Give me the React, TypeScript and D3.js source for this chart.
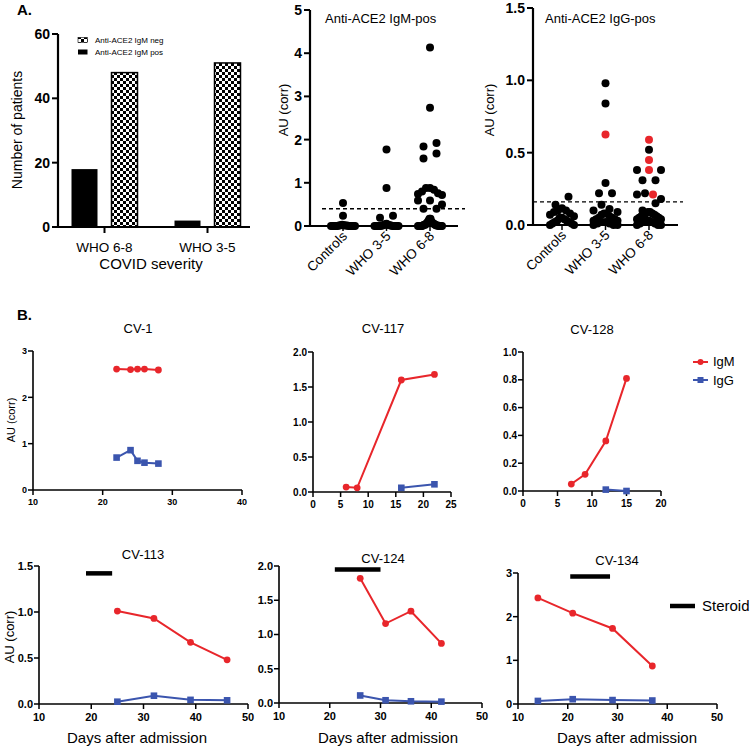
import React from "react";
import * as d3 from "d3";

const FONT = "'Liberation Sans', Arial, Helvetica, sans-serif";
const RED = "#e8262b";
const BLUE = "#3b55ae";

// ---------- Panel A: bar chart ----------
const barCategories = ["WHO 6-8", "WHO 3-5"];
const igmPosCounts = [18, 2];
const igmNegCounts = [48, 51];
const barTicks = [0, 20, 40, 60];

// ---------- Panel A: scatter plots ----------
const scatterCategories = ["Controls", "WHO 3-5", "WHO 6-8"];
const igmControls = [0.53, 0.24, 0.03, 0.02, 0.02, 0.01, 0.01, 0.0, 0.0, 0.0, 0.0, 0.0, 0.01, 0.0, 0.0, 0.0, 0.0, 0.0];
const igmWho35 = [1.77, 0.88, 0.19, 0.24, 0.05, 0.04, 0.03, 0.02, 0.02, 0.01, 0.01, 0.0, 0.0, 0.0, 0.0, 0.0, 0.0, 0.0, 0.0, 0.0, 0.0];
const igmWho68 = [4.13, 2.74, 1.92, 1.84, 1.68, 1.56, 0.88, 0.88, 0.84, 0.80, 0.76, 0.74, 0.72, 0.59, 0.59, 0.50, 0.40, 0.40,
  0.17, 0.17, 0.12, 0.10, 0.08, 0.07, 0.06, 0.05, 0.04, 0.03, 0.03, 0.02, 0.02, 0.01, 0.01, 0.0, 0.0, 0.0, 0.0, 0.0, 0.0, 0.0, 0.0, 0.0];
const igmTicks = [0, 1, 2, 3, 4, 5];
const igmCutoff = 0.4;

const iggControls = [0.195, 0.14, 0.115, 0.10, 0.10, 0.09, 0.08, 0.07, 0.06, 0.05, 0.05, 0.04, 0.03, 0.03, 0.02, 0.02, 0.01, 0.01, 0.0, 0.0];
const iggWho35 = [0.98, 0.84, 0.29, 0.22, 0.22, 0.14, 0.11, 0.10, 0.09, 0.08, 0.08, 0.07, 0.06, 0.05, 0.05, 0.04, 0.04, 0.03, 0.03, 0.02, 0.02, 0.01, 0.01, 0.0, 0.0, 0.0];
const iggWho35Red = [0.625];
const iggWho68 = [0.52, 0.38, 0.38, 0.31, 0.31, 0.22, 0.21, 0.18, 0.15, 0.10, 0.09, 0.09, 0.08, 0.08, 0.07, 0.07, 0.06, 0.06, 0.05, 0.05, 0.04, 0.04, 0.03, 0.03, 0.02, 0.02, 0.01, 0.01, 0.0, 0.0, 0.0];
const iggWho68Red = [0.59, 0.45, 0.38, 0.21];
const iggTicks = [0, 0.5, 1.0, 1.5];
const iggCutoff = 0.16;

// ---------- Panel B: kinetics ----------
const cv1IgMDays = [22, 24, 25, 26, 28];
const cv1IgM = [2.61, 2.6, 2.61, 2.61, 2.59];
const cv1IgGDays = [22, 24, 25, 26, 28];
const cv1IgG = [0.7, 0.86, 0.63, 0.59, 0.57];

const cv117IgMDays = [6, 8, 16, 22];
const cv117IgM = [0.07, 0.06, 1.6, 1.68];
const cv117IgGDays = [16, 22];
const cv117IgG = [0.06, 0.11];

const cv128IgMDays = [7, 9, 12, 15];
const cv128IgM = [0.05, 0.12, 0.36, 0.81];
const cv128IgGDays = [12, 15];
const cv128IgG = [0.01, 0.0];

const cv113Days = [25, 32, 39, 46];
const cv113IgM = [1.01, 0.93, 0.67, 0.48];
const cv113IgG = [0.025, 0.09, 0.045, 0.04];
const cv113Steroid = [19, 24, 1.42];

const cv124Days = [26, 31, 36, 42];
const cv124IgM = [1.82, 1.16, 1.34, 0.87];
const cv124IgG = [0.11, 0.04, 0.025, 0.02];
const cv124Steroid = [21, 30, 1.95];

const cv134Days = [14, 21, 29, 37];
const cv134IgM = [2.43, 2.08, 1.73, 0.87];
const cv134IgG = [0.07, 0.11, 0.09, 0.08];
const cv134Steroid = [20.5, 28.5, 2.92];

type Pt = { v: number; red: boolean };

function swarmOffsets(vals: Pt[], y: (v: number) => number, r: number, maxHalf: number, pairHalf: number) {
  const idx = vals.map((_, i) => i).sort((a, b) => vals[b].v - vals[a].v || (vals[b].red ? 1 : 0) - (vals[a].red ? 1 : 0));
  const out = new Array(vals.length).fill(0);
  let i = 0;
  while (i < idx.length) {
    const y0 = y(vals[idx[i]].v);
    let j = i;
    while (j < idx.length && Math.abs(y(vals[idx[j]].v) - y0) < 2 * r) j++;
    const group = idx.slice(i, j);
    const n = group.length;
    if (n === 2) {
      out[group[0]] = pairHalf;
      out[group[1]] = -pairHalf;
    } else if (n > 2) {
      const W = Math.min(pairHalf * (n - 1), maxHalf);
      const slots = d3.range(n).map((k) => -W + (2 * W * k) / (n - 1));
      slots.sort((a, b) => Math.abs(a) - Math.abs(b) || a - b);
      group.forEach((g, k) => (out[g] = slots[k]));
    }
    i = j;
  }
  return out;
}

function BarPanel() {
  const y = d3.scaleLinear().domain([0, 60]).range([227, 34]);
  const x = d3.scaleBand().domain(barCategories).range([53, 259]);
  const inner = d3.scaleBand().domain(["pos", "neg"]).range([-33, 33]).paddingInner(0.35);
  const axisX = 58;
  const y0 = y(0);
  return (
    <g>
      <defs>
        <pattern id="checker" width={6} height={6} patternUnits="userSpaceOnUse">
          <rect width={6} height={6} fill="#fff" />
          <rect width={3} height={3} fill="#000" />
          <rect x={3} y={3} width={3} height={3} fill="#000" />
        </pattern>
      </defs>
      {barCategories.map((c, i) => {
        const cx = (x(c) as number) + x.bandwidth() / 2;
        return (
          <g key={c}>
            <rect x={cx + (inner("pos") as number)} y={y(igmPosCounts[i])} width={inner.bandwidth()} height={y0 - y(igmPosCounts[i])} fill="#000" />
            <rect x={cx + (inner("neg") as number)} y={y(igmNegCounts[i])} width={inner.bandwidth()} height={y0 - y(igmNegCounts[i])} fill="url(#checker)" stroke="#000" strokeWidth={1.5} />
            <line x1={cx} x2={cx} y1={y0} y2={y0 + 6} stroke="#000" strokeWidth={2} />
            <text x={cx} y={252} textAnchor="middle" fontSize={13.5} fontFamily={FONT}>{c}</text>
          </g>
        );
      })}
      <line x1={axisX} x2={250} y1={y0} y2={y0} stroke="#000" strokeWidth={2.2} />
      <line x1={axisX} x2={axisX} y1={y0 + 1} y2={y(60)} stroke="#000" strokeWidth={2.2} />
      {barTicks.map((t) => (
        <g key={t}>
          <line x1={axisX - 6} x2={axisX} y1={y(t)} y2={y(t)} stroke="#000" strokeWidth={2} />
          <text x={axisX - 8} y={y(t) + 5} textAnchor="end" fontSize={14} fontWeight="bold" fontFamily={FONT}>{t}</text>
        </g>
      ))}
      <text transform="translate(22,130) rotate(-90)" textAnchor="middle" fontSize={14} fontFamily={FONT}>Number of patients</text>
      <text x={151} y={269} textAnchor="middle" fontSize={15} fontFamily={FONT}>COVID severity</text>
      <rect x={78} y={37.5} width={9.5} height={5} fill="url(#checker)" stroke="#000" strokeWidth={0.6} />
      <text x={95} y={42.5} fontSize={8} fontFamily={FONT}>Anti-ACE2 IgM neg</text>
      <rect x={78} y={49.5} width={9.5} height={5} fill="#000" />
      <text x={95} y={54.5} fontSize={8} fontFamily={FONT}>Anti-ACE2 IgM pos</text>
    </g>
  );
}

function ScatterPanel(p: {
  groups: Pt[][];
  yDomain: [number, number];
  yRange: [number, number];
  centers: [number, number];
  axisX: number;
  axisEnd: number;
  ticks: number[];
  fmt: (v: number) => string;
  cutoff: number;
  dash: [number, number];
  title: string;
  titleX: number;
  ylabelX: number;
}) {
  const y = d3.scaleLinear().domain(p.yDomain).range(p.yRange);
  const x = d3.scalePoint().domain(scatterCategories).range(p.centers);
  const y0 = y(0);
  return (
    <g>
      {p.groups.map((g, gi) => {
        const cx = x(scatterCategories[gi]) as number;
        const offs = swarmOffsets(g, (v) => y(v), 4, 12, 6.5);
        return g.map((d, i) => <circle key={gi + "-" + i} cx={cx + offs[i]} cy={y(d.v)} r={4} fill={d.red ? RED : "#000"} />);
      })}
      <line x1={p.dash[0]} x2={p.dash[1]} y1={y(p.cutoff)} y2={y(p.cutoff)} stroke="#000" strokeWidth={1.4} strokeDasharray="4,3" />
      <line x1={p.axisX} x2={p.axisEnd} y1={y0} y2={y0} stroke="#000" strokeWidth={2.2} />
      <line x1={p.axisX} x2={p.axisX} y1={y0 + 1} y2={y(p.yDomain[1])} stroke="#000" strokeWidth={2.2} />
      {p.ticks.map((t) => (
        <g key={t}>
          <line x1={p.axisX - 6} x2={p.axisX} y1={y(t)} y2={y(t)} stroke="#000" strokeWidth={2} />
          <text x={p.axisX - 8} y={y(t) + 5} textAnchor="end" fontSize={14} fontWeight="bold" fontFamily={FONT}>{p.fmt(t)}</text>
        </g>
      ))}
      {scatterCategories.map((c) => {
        const cx = x(c) as number;
        return (
          <g key={c}>
            <line x1={cx} x2={cx} y1={y0} y2={y0 + 5} stroke="#000" strokeWidth={1.5} />
            <text transform={`translate(${cx + 5},${y0 + 11}) rotate(-45)`} textAnchor="end" fontSize={13.5} fontFamily={FONT}>{c}</text>
          </g>
        );
      })}
      <text x={p.titleX} y={23} fontSize={13} fontFamily={FONT}>{p.title}</text>
      <text transform={`translate(${p.ylabelX},110) rotate(-90)`} textAnchor="middle" fontSize={13} fontFamily={FONT}>AU (corr)</text>
    </g>
  );
}

function LinePanel(p: {
  xDomain: [number, number];
  xRange: [number, number];
  yDomain: [number, number];
  yRange: [number, number];
  xTicks: number[];
  yTicks: number[];
  fmt: (v: number) => string;
  tickSize: number;
  igmDays: number[];
  igm: number[];
  iggDays: number[];
  igg: number[];
  steroid?: number[];
  title: string;
  titleX: number;
  titleY: number;
}) {
  const x = d3.scaleLinear().domain(p.xDomain).range(p.xRange);
  const y = d3.scaleLinear().domain(p.yDomain).range(p.yRange);
  const line = d3.line<[number, number]>().x((d) => x(d[0])).y((d) => y(d[1]));
  const igmPts: [number, number][] = p.igmDays.map((d, i) => [d, p.igm[i]]);
  const iggPts: [number, number][] = p.iggDays.map((d, i) => [d, p.igg[i]]);
  const ax = p.xRange[0];
  const ay = p.yRange[0];
  return (
    <g>
      <line x1={ax} x2={p.xRange[1]} y1={ay} y2={ay} stroke="#000" strokeWidth={1.6} />
      <line x1={ax} x2={ax} y1={ay} y2={p.yRange[1]} stroke="#000" strokeWidth={1.6} />
      {p.yTicks.map((t) => (
        <g key={"y" + t}>
          <line x1={ax - 5} x2={ax} y1={y(t)} y2={y(t)} stroke="#000" strokeWidth={1.5} />
          <text x={ax - 6} y={y(t) + p.tickSize * 0.36} textAnchor="end" fontSize={p.tickSize} fontWeight="bold" fontFamily={FONT}>{p.fmt(t)}</text>
        </g>
      ))}
      {p.xTicks.map((t) => (
        <g key={"x" + t}>
          <line x1={x(t)} x2={x(t)} y1={ay} y2={ay + 5} stroke="#000" strokeWidth={1.5} />
          <text x={x(t)} y={ay + 6 + p.tickSize} textAnchor="middle" fontSize={p.tickSize} fontWeight="bold" fontFamily={FONT}>{t}</text>
        </g>
      ))}
      {p.steroid && (
        <line x1={x(p.steroid[0])} x2={x(p.steroid[1])} y1={y(p.steroid[2])} y2={y(p.steroid[2])} stroke="#000" strokeWidth={4.5} />
      )}
      <path d={line(iggPts) || ""} fill="none" stroke={BLUE} strokeWidth={2} />
      {iggPts.map((d, i) => (
        <rect key={"g" + i} x={x(d[0]) - 3.3} y={y(d[1]) - 3.3} width={6.6} height={6.6} fill={BLUE} />
      ))}
      <path d={line(igmPts) || ""} fill="none" stroke={RED} strokeWidth={2} />
      {igmPts.map((d, i) => (
        <circle key={"m" + i} cx={x(d[0])} cy={y(d[1])} r={3.4} fill={RED} />
      ))}
      <text x={p.titleX} y={p.titleY} textAnchor="middle" fontSize={13} fontFamily={FONT}>{p.title}</text>
    </g>
  );
}

export default function App() {
  const toPts = (vals: number[], red: boolean) => vals.map((v) => ({ v, red }));
  const igmGroups = [toPts(igmControls, false), toPts(igmWho35, false), toPts(igmWho68, false)];
  const iggGroups = [
    toPts(iggControls, false),
    [...toPts(iggWho35Red, true), ...toPts(iggWho35, false)],
    [...toPts(iggWho68Red, true), ...toPts(iggWho68, false)],
  ];
  const f0 = d3.format("d");
  const f1 = d3.format(".1f");
  return (
    <svg width={750} height={750} style={{ position: "absolute", left: 0, top: 0, background: "#fff" }} fontFamily={FONT}>
      <text x={17} y={15} fontSize={15} fontWeight="bold" fontFamily={FONT}>A.</text>
      <text x={17} y={320} fontSize={15} fontWeight="bold" fontFamily={FONT}>B.</text>
      <BarPanel />
      <ScatterPanel groups={igmGroups} yDomain={[0, 5]} yRange={[226, 10]} centers={[343, 430]} axisX={310} axisEnd={458}
        ticks={igmTicks} fmt={f0} cutoff={igmCutoff} dash={[322, 465]} title="Anti-ACE2 IgM-pos" titleX={325} ylabelX={288} />
      <ScatterPanel groups={iggGroups} yDomain={[0, 1.5]} yRange={[225, 8]} centers={[562, 649]} axisX={533} axisEnd={678}
        ticks={iggTicks} fmt={f1} cutoff={iggCutoff} dash={[533, 683]} title="Anti-ACE2 IgG-pos" titleX={545} ylabelX={494} />

      <LinePanel xDomain={[10, 40]} xRange={[33, 242]} yDomain={[0, 3]} yRange={[490, 351]} xTicks={[10, 20, 30, 40]} yTicks={[0, 1, 2, 3]}
        fmt={f0} tickSize={9} igmDays={cv1IgMDays} igm={cv1IgM} iggDays={cv1IgGDays} igg={cv1IgG} title="CV-1" titleX={138} titleY={333} />
      <LinePanel xDomain={[0, 25]} xRange={[313, 451]} yDomain={[0, 2]} yRange={[492, 352]} xTicks={[0, 5, 10, 15, 20, 25]} yTicks={[0, 0.5, 1, 1.5, 2]}
        fmt={f1} tickSize={10} igmDays={cv117IgMDays} igm={cv117IgM} iggDays={cv117IgGDays} igg={cv117IgG} title="CV-117" titleX={383} titleY={333} />
      <LinePanel xDomain={[0, 20]} xRange={[523, 661]} yDomain={[0, 1]} yRange={[491, 352]} xTicks={[0, 5, 10, 15, 20]} yTicks={[0, 0.2, 0.4, 0.6, 0.8, 1.0]}
        fmt={f1} tickSize={10} igmDays={cv128IgMDays} igm={cv128IgM} iggDays={cv128IgGDays} igg={cv128IgG} title="CV-128" titleX={592} titleY={334} />
      <text transform="translate(15,420) rotate(-90)" textAnchor="middle" fontSize={11} fontFamily={FONT}>AU (corr)</text>

      <g>
        <line x1={693} x2={708} y1={362} y2={362} stroke={RED} strokeWidth={2} />
        <circle cx={700.5} cy={362} r={3} fill={RED} />
        <text x={713} y={366} fontSize={13} fontFamily={FONT}>IgM</text>
        <line x1={693} x2={708} y1={380} y2={380} stroke={BLUE} strokeWidth={2} />
        <rect x={697.5} y={377} width={6} height={6} fill={BLUE} />
        <text x={713} y={384.5} fontSize={13} fontFamily={FONT}>IgG</text>
      </g>

      <LinePanel xDomain={[10, 50]} xRange={[39, 248]} yDomain={[0, 1.5]} yRange={[704, 566]} xTicks={[10, 20, 30, 40, 50]} yTicks={[0, 0.5, 1, 1.5]}
        fmt={f1} tickSize={11} igmDays={cv113Days} igm={cv113IgM} iggDays={cv113Days} igg={cv113IgG} steroid={cv113Steroid} title="CV-113" titleX={143} titleY={559} />
      <LinePanel xDomain={[10, 50]} xRange={[279, 482]} yDomain={[0, 2]} yRange={[703, 566]} xTicks={[10, 20, 30, 40, 50]} yTicks={[0, 0.5, 1, 1.5, 2]}
        fmt={f1} tickSize={11} igmDays={cv124Days} igm={cv124IgM} iggDays={cv124Days} igg={cv124IgG} steroid={cv124Steroid} title="CV-124" titleX={383} titleY={563} />
      <LinePanel xDomain={[10, 50]} xRange={[518, 717]} yDomain={[0, 3]} yRange={[704, 573]} xTicks={[10, 20, 30, 40, 50]} yTicks={[0, 1, 2, 3]}
        fmt={f0} tickSize={11} igmDays={cv134Days} igm={cv134IgM} iggDays={cv134Days} igg={cv134IgG} steroid={cv134Steroid} title="CV-134" titleX={617} titleY={565} />
      <text transform="translate(14,637) rotate(-90)" textAnchor="middle" fontSize={13} fontFamily={FONT}>AU (corr)</text>
      <text x={137} y={743} textAnchor="middle" fontSize={15} fontFamily={FONT}>Days after admission</text>
      <text x={388} y={743} textAnchor="middle" fontSize={15} fontFamily={FONT}>Days after admission</text>
      <text x={627} y={743} textAnchor="middle" fontSize={15} fontFamily={FONT}>Days after admission</text>

      <line x1={670} x2={695} y1={606} y2={606} stroke="#000" strokeWidth={4.5} />
      <text x={702} y={611} fontSize={15} fontFamily={FONT}>Steroid</text>
    </svg>
  );
}
